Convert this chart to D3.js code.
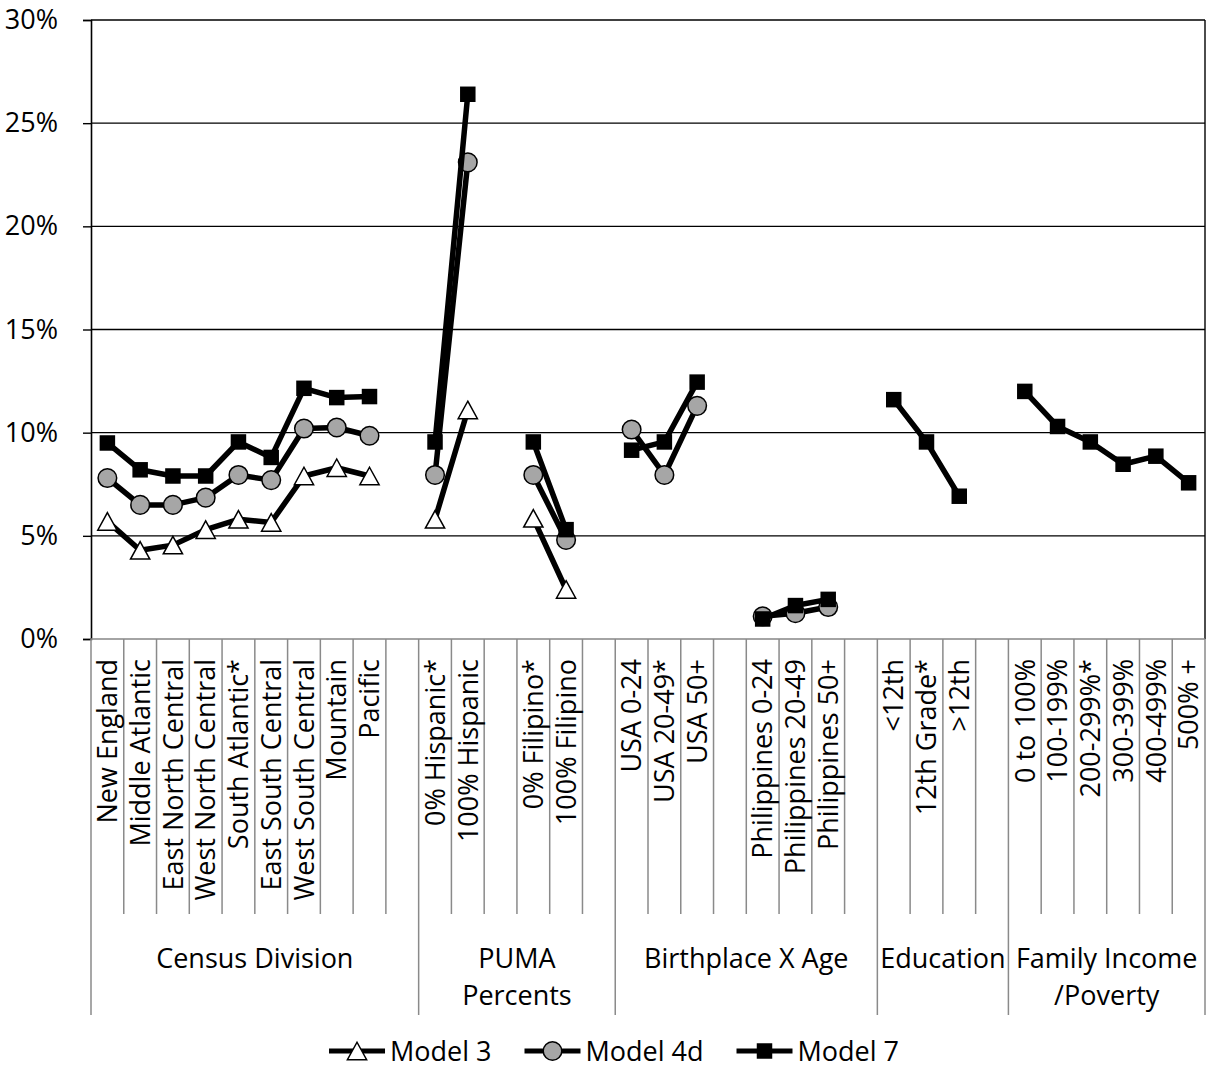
<!DOCTYPE html>
<html>
<head>
<meta charset="utf-8">
<script src="https://cdn.jsdelivr.net/npm/d3@7/dist/d3.min.js"></script>
<style>
  html, body { margin: 0; padding: 0; background: #fff; }
  svg { display: block; }
  text { font-family: "Open Sans", sans-serif; fill: #000; }
</style>
</head>
<body>
<svg id="chart" width="1207" height="1069"></svg>
<script>
// ---------------- DATA ----------------
const categories = [
  "New England","Middle Atlantic","East North Central","West North Central","South Atlantic*",
  "East South Central","West South Central","Mountain","Pacific","",
  "0% Hispanic*","100% Hispanic","","0% Filipino*","100% Filipino","",
  "USA 0-24","USA 20-49*","USA 50+","","Philippines 0-24","Philippines 20-49","Philippines 50+","",
  "<12th","12th Grade*",">12th","",
  "0 to 100%","100-199%","200-299%*","300-399%","400-499%","500% +"
];
const groupNames = [["Census Division"], ["PUMA","Percents"], ["Birthplace X Age"], ["Education"], ["Family Income","/Poverty"]];
const groupSizes = [10, 6, 8, 4, 6];

const yTicks = [0, 5, 10, 15, 20, 25, 30];

const model3 = [5.7, 4.3, 4.55, 5.3, 5.8, 5.65, 7.9, 8.3, 7.9, null,
  5.8, 11.1, null, 5.85, 2.4, null,
  null, null, null, null, null, null, null, null,
  null, null, null, null,
  null, null, null, null, null, null];
const model4d = [7.8, 6.5, 6.5, 6.85, 7.95, 7.7, 10.2, 10.25, 9.85, null,
  7.95, 23.1, null, 7.95, 4.8, null,
  10.15, 7.95, 11.3, null, 1.1, 1.25, 1.55, null,
  null, null, null, null,
  null, null, null, null, null, null];
const model7 = [9.5, 8.2, 7.9, 7.9, 9.55, 8.8, 12.15, 11.7, 11.75, null,
  9.55, 26.4, null, 9.55, 5.3, null,
  9.15, 9.55, 12.45, null, 0.97, 1.62, 1.92, null,
  11.6, 9.55, 6.92, null,
  12.0, 10.3, 9.55, 8.47, 8.86, 7.57];

const seriesNames = ["Model 3", "Model 4d", "Model 7"];

// ---------------- LAYOUT ----------------
const svg = d3.select("#chart");
const plotL = 91, plotR = 1205, plotT = 20, plotB = 639;
const fontSize = 27;

const x = d3.scaleBand().domain(d3.range(categories.length)).range([plotL, plotR]).padding(0);
const y = d3.scaleLinear().domain([0, 30]).range([plotB, plotT]);

// gridlines
svg.append("g").selectAll("line").data(yTicks.filter(d => d > 0)).join("line")
  .attr("x1", plotL).attr("x2", plotR)
  .attr("y1", d => y(d)).attr("y2", d => y(d))
  .attr("stroke", "#000").attr("stroke-width", 1.4);

// y axis
const yAxis = svg.append("g").attr("transform", `translate(${plotL},0)`)
  .call(d3.axisLeft(y).tickValues(yTicks).tickFormat(d => d + "%").tickSize(8).tickPadding(25));
yAxis.select(".domain").attr("stroke", "#000").attr("stroke-width", 1.6);
yAxis.selectAll(".tick line").attr("stroke", "#000").attr("stroke-width", 1.4);
yAxis.selectAll(".tick text").attr("font-size", fontSize).attr("font-family", "Open Sans").attr("fill", "#000");

// right border
svg.append("line").attr("x1", plotR).attr("x2", plotR).attr("y1", plotT).attr("y2", plotB)
  .attr("stroke", "#000").attr("stroke-width", 1.4);

// category axis baseline
svg.append("line").attr("x1", plotL).attr("x2", plotR).attr("y1", plotB).attr("y2", plotB)
  .attr("stroke", "#868686").attr("stroke-width", 1.6);

// boundary ticks
const groupStarts = [0];
groupSizes.forEach((s, i) => groupStarts.push(groupStarts[i] + s));
const boundaries = d3.range(categories.length + 1);
svg.append("g").selectAll("line").data(boundaries).join("line")
  .attr("x1", i => i < categories.length ? x(i) : plotR)
  .attr("x2", i => i < categories.length ? x(i) : plotR)
  .attr("y1", plotB)
  .attr("y2", i => groupStarts.includes(i) ? 1015 : 914)
  .attr("stroke", "#8a8a8a").attr("stroke-width", 1.5);

// category labels
svg.append("g").selectAll("text").data(categories).join("text")
  .attr("transform", (d, i) => `translate(${x(i) + x.bandwidth() / 2},659) rotate(-90)`)
  .attr("text-anchor", "end")
  .attr("dy", "0.36em")
  .attr("font-size", fontSize)
  .text(d => d);

// group labels
groupNames.forEach((lines, gi) => {
  const a = x(groupStarts[gi]);
  const bIdx = groupStarts[gi + 1];
  const b = bIdx < categories.length ? x(bIdx) : plotR;
  const t = svg.append("text")
    .attr("x", (a + b) / 2).attr("y", 968)
    .attr("text-anchor", "middle").attr("font-size", fontSize);
  lines.forEach((ln, li) => {
    t.append("tspan").attr("x", (a + b) / 2).attr("dy", li === 0 ? 0 : 37).text(ln);
  });
});

// markers
const triangleType = {
  draw(ctx, size) {
    const w = Math.sqrt(size) * 1.1, h = Math.sqrt(size);
    ctx.moveTo(0, -h / 2);
    ctx.lineTo(w / 2, h / 2);
    ctx.lineTo(-w / 2, h / 2);
    ctx.closePath();
  }
};
const markerStyles = [
  { type: triangleType, size: 17.5 * 17.5, fill: "#fff", stroke: "#000", sw: 1.5 },
  { type: d3.symbolCircle, size: Math.PI * 9.3 * 9.3, fill: "#a6a6a6", stroke: "#000", sw: 1.5 },
  { type: d3.symbolSquare, size: 15.5 * 15.5, fill: "#000", stroke: "#000", sw: 0 }
];

const allSeries = [model3, model4d, model7];
const line = d3.line()
  .defined(d => d.v != null)
  .x(d => x(d.i) + x.bandwidth() / 2)
  .y(d => y(d.v));

allSeries.forEach((vals, si) => {
  const pts = vals.map((v, i) => ({ i, v }));
  const g = svg.append("g");
  g.append("path").datum(pts).attr("d", line)
    .attr("fill", "none").attr("stroke", "#000").attr("stroke-width", 5.5)
    .attr("stroke-linejoin", "round");
  const ms = markerStyles[si];
  g.selectAll("path.m").data(pts.filter(d => d.v != null)).join("path")
    .attr("class", "m")
    .attr("transform", d => `translate(${x(d.i) + x.bandwidth() / 2},${y(d.v)})`)
    .attr("d", d3.symbol(ms.type, ms.size))
    .attr("fill", ms.fill).attr("stroke", ms.stroke).attr("stroke-width", ms.sw);
});

// legend
const legendY = 1051;
const legend = svg.append("g");
const items = [];
seriesNames.forEach((name, si) => {
  const g = legend.append("g");
  g.append("line").attr("x1", 0).attr("x2", 56).attr("y1", 0).attr("y2", 0)
    .attr("stroke", "#000").attr("stroke-width", 5);
  const ms = markerStyles[si];
  g.append("path").attr("transform", "translate(28,0)")
    .attr("d", d3.symbol(ms.type, ms.size))
    .attr("fill", ms.fill).attr("stroke", ms.stroke).attr("stroke-width", ms.sw);
  const t = g.append("text").attr("x", 61).attr("dy", "0.36em").attr("font-size", fontSize).text(name);
  const w = 61 + t.node().getComputedTextLength();
  items.push({ g, w });
});
const gap = 33;
const total = d3.sum(items, d => d.w) + gap * (items.length - 1);
let start = 614 - total / 2;
items.forEach(it => {
  it.g.attr("transform", `translate(${start},${legendY})`);
  start += it.w + gap;
});
</script>
</body>
</html>
